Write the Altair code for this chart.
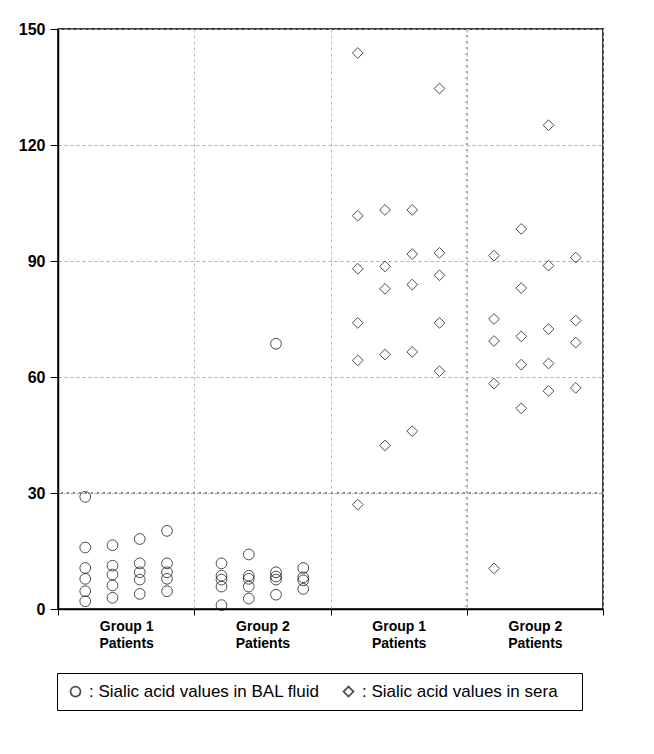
import altair as alt
import pandas as pd

# ---- data ----
categories = ["Group 1|Patients", "Group 2|Patients", "Group 1|Patients", "Group 2|Patients"]
legend_labels = [": Sialic acid values in BAL fluid",
                 ": Sialic acid values in sera" + "\u00a0" * 3 + "\u200b"]

# each group: 4 patient columns, values
g1_bal = [[29.0, 15.9, 10.6, 7.8, 4.6, 2.0],
          [16.5, 11.2, 8.9, 6.1, 2.9],
          [18.1, 11.8, 9.5, 7.6, 3.9],
          [20.2, 11.8, 9.5, 7.8, 4.6]]
g2_bal = [[11.8, 8.6, 7.6, 5.8, 1.0],
          [14.1, 8.6, 7.8, 5.8, 2.7],
          [68.6, 9.5, 8.4, 7.6, 3.7],
          [10.6, 8.2, 7.4, 5.2]]
g1_sera = [[143.8, 101.7, 88.0, 74.0, 64.3, 27.0],
           [103.2, 88.6, 82.8, 65.8, 42.3],
           [103.2, 91.8, 83.9, 66.5, 46.0],
           [134.6, 92.1, 86.3, 74.0, 61.5]]
g2_sera = [[91.4, 75.0, 69.3, 58.3, 10.5],
           [98.3, 83.0, 70.5, 63.2, 51.9],
           [125.1, 88.8, 72.4, 63.5, 56.4],
           [90.9, 74.6, 68.9, 57.2]]

y_ticks = [0, 30, 60, 90, 120, 150]
emph_y = [30]
emph_x = [15]

groups = [(g1_bal, 0, legend_labels[0]), (g2_bal, 1, legend_labels[0]),
          (g1_sera, 2, legend_labels[1]), (g2_sera, 3, legend_labels[1])]
rows = []
for cols, cat, ser in groups:
    for j, col in enumerate(cols):
        for v in col:
            rows.append({"pos": cat * 5 + j + 1, "value": v, "series": ser})
df = pd.DataFrame(rows)

boundaries = [i * 5 for i in range(len(categories) + 1)]
centers = [i * 5 + 2.5 for i in range(len(categories))]

expr = "''"
for i in reversed(range(len(categories))):
    parts = categories[i].split("|")
    arr = "[" + ",".join("'" + p + "'" for p in parts) + "]"
    expr = f"datum.value < {boundaries[i + 1]} ? {arr} : ({expr})"

FONT = "Liberation Sans"
xscale = alt.Scale(domain=[0, 20], nice=False, zero=False)
yscale = alt.Scale(domain=[0, 150], nice=False)

points = alt.Chart(df).mark_point(filled=False, color="black", strokeWidth=1, size=115).encode(
    x=alt.X("pos:Q", scale=xscale, title=None,
            axis=alt.Axis(values=boundaries, labels=False, ticks=True, tickSize=6,
                          tickColor="black", domainColor="black", domainWidth=1.5,
                          grid=True, gridColor="#bbbbbb", gridDash=[3, 3], orient="bottom")),
    y=alt.Y("value:Q", scale=yscale, title=None,
            axis=alt.Axis(values=y_ticks, tickSize=8, tickColor="black", domainColor="black",
                          domainWidth=1.5, labelFont=FONT, labelFontSize=16,
                          labelFontWeight="bold", labelColor="black", labelPadding=5,
                          grid=True, gridColor="#aaaaaa", gridDash=[3, 3],
                          minExtent=45, maxExtent=45)),
    shape=alt.Shape("series:N", scale=alt.Scale(domain=legend_labels, range=["circle", "diamond"]),
                    legend=alt.Legend(orient="none", legendX=-1, legendY=644, direction="horizontal",
                                      title=None, strokeColor="black", fillColor="white",
                                      padding=10, labelFont=FONT, labelFontSize=17,
                                      labelColor="black", labelLimit=500, labelOffset=5,
                                      columnPadding=20, symbolSize=100, symbolStrokeWidth=1.7,
                                      symbolStrokeColor="black", symbolFillColor="white")),
)

hrule = alt.Chart(pd.DataFrame({"v": emph_y})).mark_rule(
    color="#888888", strokeWidth=2, strokeDash=[2, 4]).encode(
    y=alt.Y("v:Q", scale=yscale))

vrule = alt.Chart(pd.DataFrame({"p": emph_x})).mark_rule(
    color="#aaaaaa", strokeWidth=2, strokeDash=[2, 4]).encode(
    x=alt.X("p:Q", scale=xscale, title=None,
            axis=alt.Axis(values=centers, labelExpr=expr, ticks=False, domain=False, grid=False,
                          labelFont=FONT, labelFontSize=14, labelFontWeight="bold",
                          labelColor="black", labelPadding=10, labelLineHeight=17,
                          orient="bottom")))

chart = alt.layer(vrule, hrule, points).resolve_scale(x="shared").resolve_axis(
    x="independent").properties(
    width=545, height=580,
    padding={"top": 13, "left": 5, "right": 5, "bottom": 5},
).configure_view(stroke="black", strokeWidth=1.5)

chart.save("out.html", embed_options={"renderer": "svg", "actions": False})
